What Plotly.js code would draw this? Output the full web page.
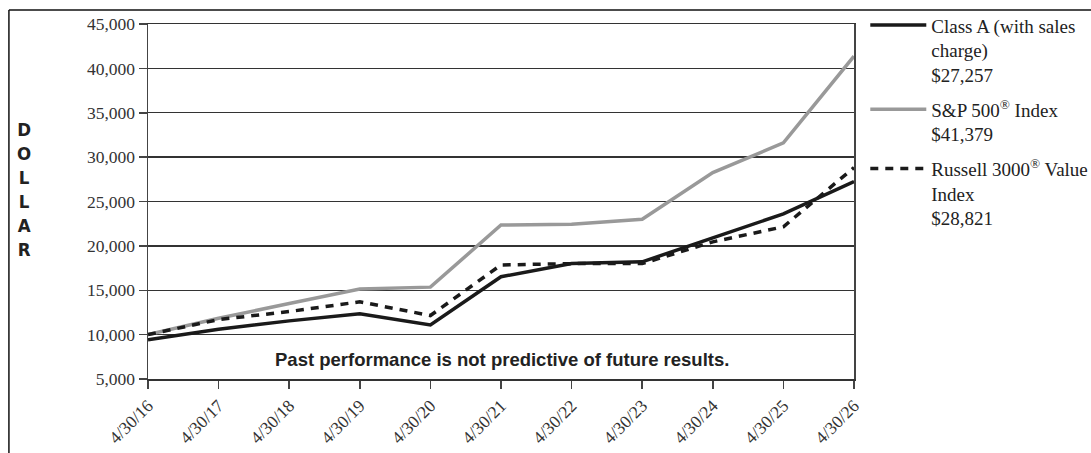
<!DOCTYPE html>
<html>
<head>
<meta charset="utf-8">
<script src="https://cdn.plot.ly/plotly-3.0.1.min.js"></script>
<style>html,body{margin:0;padding:0;background:#fff;}#chart{width:1091px;height:453px;}</style>
</head>
<body>
<div id="chart"></div>
<script>
const dates = ["4/30/16","4/30/17","4/30/18","4/30/19","4/30/20","4/30/21","4/30/22","4/30/23","4/30/24","4/30/25","4/30/26"];
const classA = [9425, 10600, 11550, 12350, 11100, 16520, 18000, 18200, 20900, 23600, 27257];
const sp500 = [10000, 11850, 13500, 15150, 15350, 22350, 22450, 23000, 28250, 31600, 41379];
const russell = [10000, 11700, 12600, 13700, 12150, 17850, 18000, 18000, 20450, 22150, 28821];
const names = [
  "Class A (with sales<br>charge)<br>$27,257",
  "S&P 500<sup>®</sup> Index<br>$41,379",
  "Russell 3000<sup>®</sup> Value<br>Index<br>$28,821"
];
const xs = dates.map((d, i) => i);

const traces = [
  {x: xs, y: classA, name: names[0], legendgroup: "a", mode: "lines", line: {color: "#1a1a1a", width: 3.5}},
  {x: xs, y: sp500, name: names[1], legendgroup: "b", mode: "lines", line: {color: "#999999", width: 3.5}},
  {x: xs, y: russell, name: names[2], legendgroup: "c", mode: "lines", line: {color: "#1a1a1a", width: 3.5, dash: "8px,7px"}}
];

const layout = {
  width: 1091, height: 453,
  margin: {l: 148, r: 237, t: 24, b: 74, autoexpand: false},
  paper_bgcolor: "#fff", plot_bgcolor: "#fff",
  font: {family: "Liberation Serif", color: "#222"},
  showlegend: true,
  legend: {
    x: 1.016, xanchor: "left", y: 1.05, yanchor: "top",
    font: {family: "Liberation Serif", size: 19, color: "#222"},
    valign: "top", tracegroupgap: 7, itemwidth: 56,
    bgcolor: "rgba(0,0,0,0)"
  },
  xaxis: {
    range: [0, 10], tickmode: "array", tickvals: xs, ticktext: dates,
    tickangle: -45, ticks: "outside", ticklen: 8, tickcolor: "#444", tickwidth: 1.5,
    showgrid: false, zeroline: false, showline: true, linecolor: "#333", linewidth: 1.5, mirror: true,
    tickfont: {family: "Liberation Serif", size: 17.5, color: "#333"}
  },
  yaxis: {
    range: [5000, 45000], tickvals: [5000,10000,15000,20000,25000,30000,35000,40000,45000],
    tickformat: ",d", ticks: "outside", ticklen: 8, tickcolor: "#444", tickwidth: 1.5,
    showgrid: true, gridcolor: "#333", gridwidth: 1.3, zeroline: false,
    showline: true, linecolor: "#444", linewidth: 1.5, mirror: true,
    tickfont: {family: "Liberation Serif", size: 17.5, color: "#333"}
  },
  annotations: [
    {xref: "paper", yref: "paper", x: -0.175, y: 0.738, xanchor: "center", yanchor: "top",
     text: "D<br>O<br>L<br>L<br>A<br>R", showarrow: false, align: "center",
     font: {family: "DejaVu Sans Condensed, Liberation Sans Narrow, Liberation Sans", size: 18.5, color: "#222", weight: "bold"}},
    {xref: "paper", yref: "paper", x: 0.502, y: 0.055, xanchor: "center", yanchor: "middle",
     text: "<b>Past performance is not predictive of future results.</b>", showarrow: false,
     font: {family: "Liberation Sans", size: 18.5, color: "#222"}}
  ],
  shapes: [
    {type: "line", xref: "paper", yref: "paper", x0: -0.197, x1: 1.4, y0: 1.0394, y1: 1.0394, line: {color: "#111", width: 1.5}},
    {type: "line", xref: "paper", yref: "paper", x0: -0.197, x1: -0.197, y0: -0.3, y1: 1.0394, line: {color: "#111", width: 1.5}}
  ]
};

Plotly.newPlot("chart", traces, layout, {displayModeBar: false, staticPlot: true});
</script>
</body>
</html>
